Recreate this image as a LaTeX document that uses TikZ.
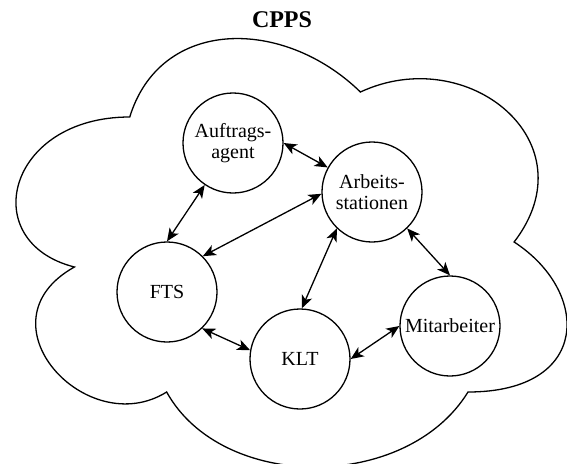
\documentclass[tikz,border=0pt]{standalone}
\usepackage{fontspec}
\setmainfont{Liberation Serif}
\usetikzlibrary{arrows.meta}

\tikzset{
  agent/.style={draw, circle, line width=1.3pt, minimum size=100pt, inner sep=0pt,
    align=center, font=\fontsize{20}{21.6}\selectfont},
  tip/.tip={Stealth[length=13pt,width=11pt,inset=3.5pt]},
  link/.style={line width=1.3pt, tip-tip},
  cloudline/.style={draw, line width=1.3pt, line join=miter},
  heading/.style={font=\fontsize{24}{28}\selectfont\bfseries}
}

\begin{document}
\begin{tikzpicture}[x=1pt, y=-1pt]
  \useasboundingbox (0,0) rectangle (567,463);

  % surrounding cloud (six lobes)
  \path[cloudline]
    (129.75,117)
      .. controls (6.75,117) and (-24,242) .. (74.4,267)
      .. controls (-24,322) and (86.7,442) .. (166.65,392)
      .. controls (222,492) and (406.5,492) .. (468,392)
      .. controls (591,392) and (591,292) .. (514.1,242)
      .. controls (591,142) and (468,42) .. (360.4,92)
      .. controls (283.5,17) and (160.5,17) .. (129.75,117)
    -- cycle;

  \node[heading] (title) at (282,20) {CPPS};

  % agents
  \node[agent] (auftrag) at (233,143) {Auftrags-\\agent};
  \node[agent] (arbeit)  at (372,192) {Arbeits-\\stationen};
  \node[agent] (fts)     at (167,292) {FTS};
  \node[agent] (klt)     at (300,359) {KLT};
  \node[agent] (mit)     at (450,326) {Mitarbeiter};

  % communication links
  \draw[link] (auftrag.0)   -- (arbeit.151);
  \draw[link] (auftrag.236) -- (fts.90);
  \draw[link] (arbeit.182)  -- (fts.45);
  \draw[link] (arbeit.226)  -- (klt.88);
  \draw[link] (arbeit.314)  -- (mit.90);
  \draw[link] (fts.314)     -- (klt.170);
  \draw[link] (klt.0)       -- (mit.180);
\end{tikzpicture}
\end{document}
